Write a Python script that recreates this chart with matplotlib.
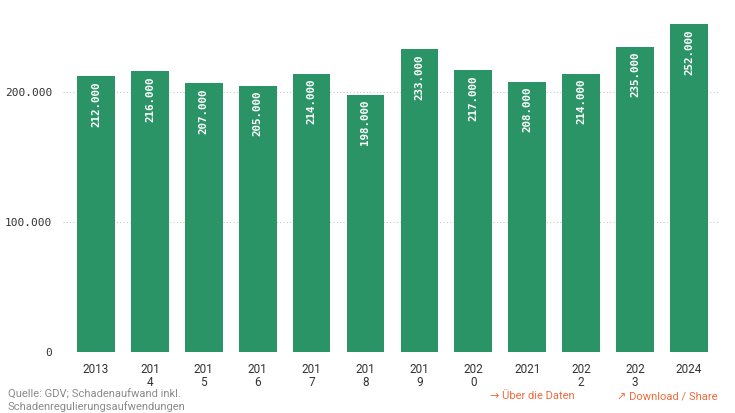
import matplotlib.pyplot as plt

# Schadenaufwand pro Jahr
years = ["2013", "201\n4", "201\n5", "201\n6", "201\n7", "201\n8", "201\n9",
         "202\n0", "2021", "202\n2", "202\n3", "2024"]
values = [212000, 216000, 207000, 205000, 214000, 198000, 233000,
          217000, 208000, 214000, 235000, 252000]
yticks = [0, 100000, 200000]

green = "#2b9467"
orange = "#f06a3c"

fig = plt.figure(figsize=(7.35, 4.13), dpi=100)
ax = fig.add_axes([63 / 735, 1 - 352 / 413, 655 / 735, 351 / 413])

x = list(range(len(values)))
bars = ax.bar(x, values, width=0.7, color=green, zorder=2)

# Werte in die Balken schreiben
for bar, v in zip(bars, values):
    lab = f"{v:,}".replace(",", ".")
    ax.text(bar.get_x() + bar.get_width() / 2, v - 4000, lab, rotation=90,
            ha="center", va="top", color="white", fontsize=7.8,
            family="DejaVu Sans Mono", fontweight="bold", zorder=3)

ax.set_xlim(-0.612, 11.54)
ax.set_ylim(0, 270000)
ax.set_yticks(yticks)
ax.set_yticklabels([f"{t:,}".replace(",", ".") for t in yticks],
                   family="DejaVu Sans Mono", fontsize=8, color="#333333")
ax.set_xticks(x)
ax.set_xticklabels(years, family="Roboto", fontsize=8.5, color="#333333",
                   linespacing=0.95)
ax.tick_params(axis="both", length=0)
ax.tick_params(axis="y", pad=8)
ax.tick_params(axis="x", pad=8)

for t in yticks:
    ax.axhline(t, color="#c8c8c8", linestyle=(0, (1, 2)), linewidth=0.8, zorder=1)

for s in ax.spines.values():
    s.set_visible(False)

# Fußzeile
fig.text(8 / 735, 1 - 390 / 413, "Quelle: GDV; Schadenaufwand inkl.\nSchadenregulierungsaufwendungen",
         family="Roboto", fontsize=8, color="#8a8a8a", va="top", linespacing=1.1)
fig.text(490 / 735, 1 - 396 / 413, "→ Über die Daten", family=["Roboto", "DejaVu Sans"],
         fontsize=8, color=orange, va="center")
fig.text(617 / 735, 1 - 396 / 413, "↗ Download / Share", family=["Roboto", "DejaVu Sans"],
         fontsize=8, color=orange, va="center")

fig.savefig("out.png", dpi=100)
